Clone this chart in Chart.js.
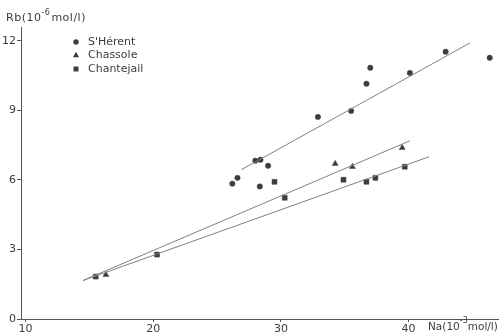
<!DOCTYPE html>
<html>
<head>
<meta charset="utf-8">
<script src="https://cdn.jsdelivr.net/npm/chart.js@4/dist/chart.umd.min.js"></script>
<style>
  html, body { margin: 0; padding: 0; background: #fff; }
  #wrap { width: 502px; height: 334px; }
</style>
</head>
<body>
<div id="wrap"><canvas id="myChart"></canvas></div>
<script>
// Na (10^-3 mol/l) vs Rb (10^-6 mol/l)
var herentNa = [26.2, 26.6, 28.0, 28.4, 28.35, 29.0, 32.9, 35.5, 36.7, 37.0, 40.1, 42.9, 46.35];
var herentRb = [5.84, 6.09, 6.83, 6.87, 5.72, 6.61, 8.72, 8.98, 10.15, 10.84, 10.62, 11.53, 11.27];

var chassoleNa = [16.3, 34.25, 35.6, 39.5];
var chassoleRb = [1.91, 6.70, 6.57, 7.39];

var chantejailNa = [15.5, 20.3, 29.5, 30.3, 34.9, 36.7, 37.4, 39.7];
var chantejailRb = [1.83, 2.78, 5.92, 5.23, 6.01, 5.92, 6.09, 6.57];

// regression lines (end points)
var herentFitNa = [26.9, 44.8];
var herentFitRb = [6.44, 11.91];
var chassoleFitNa = [14.5, 40.1];
var chassoleFitRb = [1.66, 7.69];
var chantejailFitNa = [14.5, 41.6];
var chantejailFitRb = [1.66, 7.00];

var xTicks = [10, 20, 30, 40];
var yTicks = [0, 3, 6, 9, 12];

var seriesNames = ["S'Hérent", "Chassole", "Chantejail"];

function pts(xs, ys) {
  return xs.map(function(x, i){ return {x: x, y: ys[i]}; });
}

var ink = '#3d3d3d';
var lineInk = '#808080';
var font = 'DejaVu Sans';

function drawMarker(ctx, style, x, y) {
  ctx.beginPath();
  if (style === 'circle') {
    ctx.arc(x, y, 2.7, 0, Math.PI * 2);
  } else if (style === 'triangle') {
    ctx.moveTo(x, y - 3.2);
    ctx.lineTo(x + 3.1, y + 2.2);
    ctx.lineTo(x - 3.1, y + 2.2);
    ctx.closePath();
  } else {
    ctx.rect(x - 2.5, y - 2.5, 5, 5);
  }
  ctx.fill();
}

// legend + axis titles
var extras = {
  id: 'extras',
  afterDraw: function(chart) {
    var ctx = chart.ctx;
    ctx.save();
    ctx.fillStyle = ink;
    var styles = ['circle', 'triangle', 'rect'];
    var rows = [42, 55, 69];
    ctx.font = '11px "' + font + '"';
    ctx.textBaseline = 'middle';
    ctx.textAlign = 'left';
    for (var i = 0; i < seriesNames.length; i++) {
      drawMarker(ctx, styles[i], 76, rows[i]);
      ctx.fillText(seriesNames[i], 88, rows[i]);
    }
    // y title
    ctx.letterSpacing = '0.5px';
    ctx.font = '11px "' + font + '"';
    var x = 6;
    ctx.fillText('Rb(10', x, 18); x += ctx.measureText('Rb(10').width;
    ctx.font = '8px "' + font + '"';
    ctx.fillText('-6', x, 13); x += ctx.measureText('-6').width + 1;
    ctx.font = '11px "' + font + '"';
    ctx.fillText('mol/l)', x, 18);
    // x title
    ctx.letterSpacing = '0px';
    ctx.font = '10.5px "' + font + '"';
    x = 428;
    ctx.fillText('Na(10', x, 327); x += ctx.measureText('Na(10').width;
    ctx.font = '8px "' + font + '"';
    ctx.fillText('-3', x, 321); x += ctx.measureText('-3').width;
    ctx.font = '10.5px "' + font + '"';
    ctx.fillText('mol/l)', x, 327);
    ctx.restore();
  }
};

var ctx = document.getElementById('myChart').getContext('2d');

var pointSet = function(label, data, style, r) {
  return {
    label: label, data: data, showLine: false,
    pointStyle: style, pointRadius: r, pointHoverRadius: r,
    backgroundColor: ink, borderColor: ink, borderWidth: 0.5,
    clip: false
  };
};
var fitSet = function(label, data) {
  return {
    label: label, data: data, showLine: true, pointRadius: 0,
    borderColor: lineInk, borderWidth: 1, fill: false, clip: false
  };
};

var myChart = new Chart(ctx, {
  type: 'scatter',
  data: {
    datasets: [
      fitSet('fit1', pts(herentFitNa, herentFitRb)),
      fitSet('fit2', pts(chassoleFitNa, chassoleFitRb)),
      fitSet('fit3', pts(chantejailFitNa, chantejailFitRb)),
      pointSet(seriesNames[0], pts(herentNa, herentRb), 'circle', 2.7),
      pointSet(seriesNames[1], pts(chassoleNa, chassoleRb), 'triangle', 3.4),
      pointSet(seriesNames[2], pts(chantejailNa, chantejailRb), 'rect', 3.5)
    ]
  },
  options: {
    responsive: true,
    maintainAspectRatio: false,
    animation: false,
    layout: { padding: { top: 27, left: 0, right: 0, bottom: 0 } },
    plugins: { legend: { display: false }, tooltip: { enabled: false } },
    scales: {
      x: {
        type: 'linear', min: 9.65, max: 47,
        afterBuildTicks: function(s){ s.ticks = xTicks.map(function(v){ return {value: v}; }); },
        afterFit: function(s){ s.height = 15; },
        grid: { display: true, drawOnChartArea: false, drawTicks: true, tickLength: 3, color: '#555' },
        border: { display: true, color: '#555', width: 1 },
        ticks: { color: ink, padding: 1, maxRotation: 0, font: { family: font, size: 11 } }
      },
      y: {
        type: 'linear', min: 0, max: 12.6,
        afterBuildTicks: function(s){ s.ticks = yTicks.map(function(v){ return {value: v}; }); },
        afterFit: function(s){ s.width = 21; },
        grid: { display: true, drawOnChartArea: false, drawTicks: true, tickLength: 4, color: '#555' },
        border: { display: true, color: '#555', width: 1 },
        ticks: { color: ink, padding: 1, font: { family: font, size: 11 } }
      }
    }
  },
  plugins: [extras]
});
</script>
</body>
</html>
